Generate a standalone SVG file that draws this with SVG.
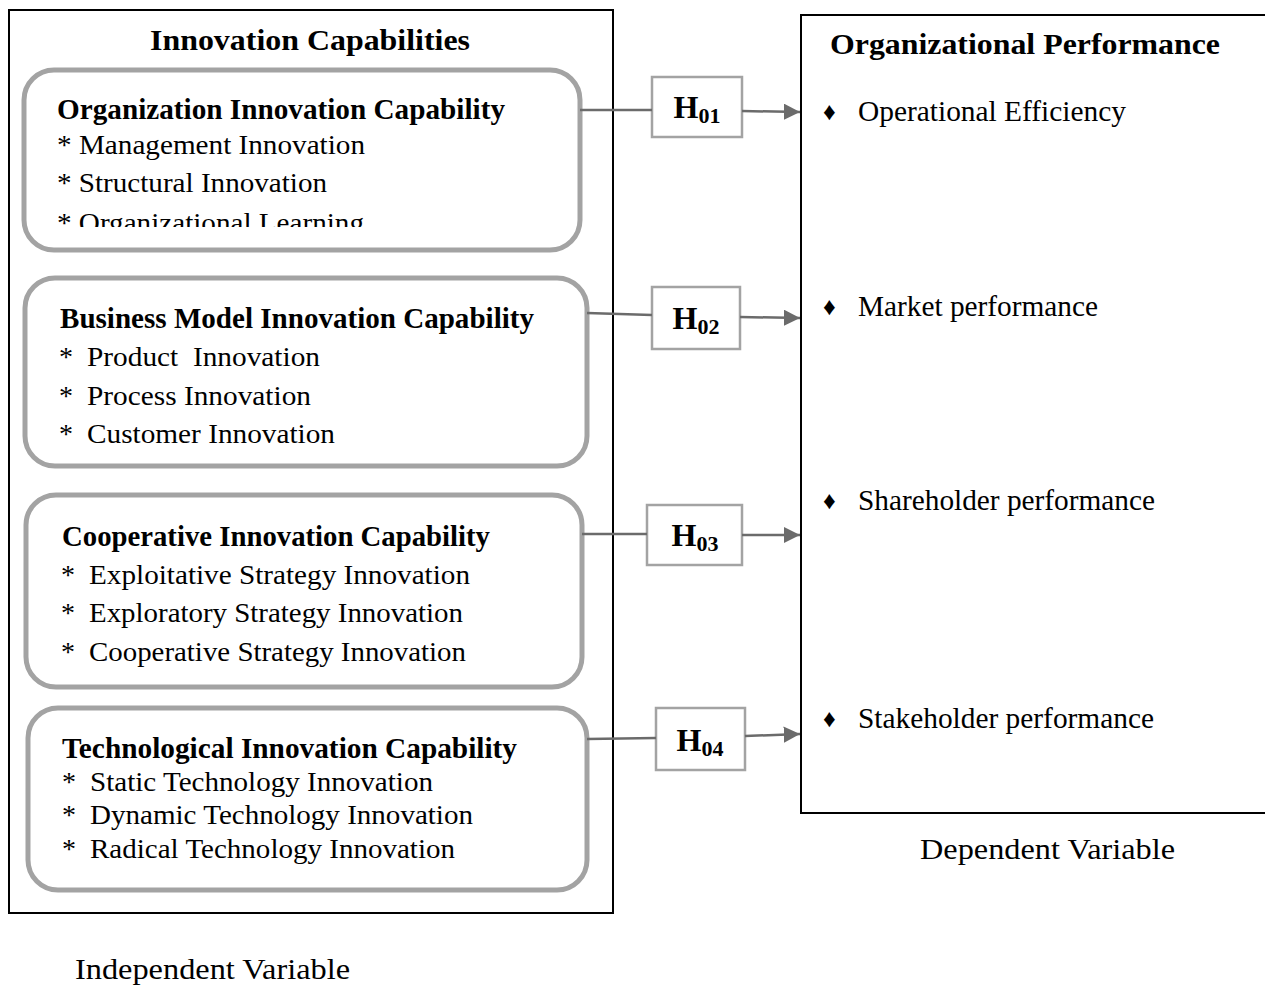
<svg xmlns="http://www.w3.org/2000/svg" width="1265" height="990" viewBox="0 0 1265 990">
  <style>
    .frame { fill: #ffffff; stroke: #000000; stroke-width: 2; }
    .cap { fill: #ffffff; stroke: #a3a3a3; stroke-width: 5; }
    .hbox { fill: #ffffff; stroke: #a3a3a3; stroke-width: 2.5; }
    .link { fill: none; stroke: #6b6b6b; stroke-width: 2.5; }
    text { font-family: "Liberation Serif", "Times New Roman", Times, serif; fill: #000000; }
    .head { font-size: 30px; font-weight: bold; }
    .sub { font-size: 29px; font-weight: bold; }
    .item { font-size: 28px; }
    .ritem { font-size: 29px; }
    .bullet { font-size: 25px; }
    .hyp { font-size: 32px; font-weight: bold; }
    .hyps { font-size: 22px; font-weight: bold; }
  </style>
  <defs>
    <marker id="arrow" viewBox="0 0 10 10" refX="10" refY="5" markerWidth="6.5" markerHeight="6.5" markerUnits="strokeWidth" orient="auto">
      <path d="M0,0 L10,5 L0,10 z" fill="#6b6b6b"/>
    </marker>
    <clipPath id="clip-box1">
      <rect x="30" y="76" width="544" height="151"/>
    </clipPath>
  </defs>

  <rect width="1265" height="990" fill="#ffffff"/>

  <!-- Independent variables frame -->
  <g id="innovation-capabilities">
    <rect class="frame" x="9" y="10" width="604" height="903"/>
    <text class="head" x="150" y="50" textLength="320" lengthAdjust="spacingAndGlyphs">Innovation Capabilities</text>
  </g>

  <g id="organization-innovation">
    <rect class="cap" x="24" y="70" width="556" height="180" rx="30" ry="30"/>
    <text class="sub" x="57" y="119" textLength="448" lengthAdjust="spacingAndGlyphs">Organization Innovation Capability</text>
    <text class="item" x="57" y="154" textLength="308" lengthAdjust="spacingAndGlyphs">* Management Innovation</text>
    <text class="item" x="57" y="192" textLength="270" lengthAdjust="spacingAndGlyphs">* Structural Innovation</text>
    <text class="item" x="57" y="232" textLength="307" lengthAdjust="spacingAndGlyphs" clip-path="url(#clip-box1)">* Organizational Learning</text>
  </g>

  <g id="business-model-innovation">
    <rect class="cap" x="25" y="278" width="562" height="188" rx="30" ry="30"/>
    <text class="sub" x="60" y="328" textLength="474" lengthAdjust="spacingAndGlyphs">Business Model Innovation Capability</text>
    <text class="item" x="59" y="366">*</text>
    <text class="item" x="87" y="366" textLength="233" lengthAdjust="spacingAndGlyphs" xml:space="preserve">Product  Innovation</text>
    <text class="item" x="59" y="405">*</text>
    <text class="item" x="87" y="405" textLength="224" lengthAdjust="spacingAndGlyphs">Process Innovation</text>
    <text class="item" x="59" y="443">*</text>
    <text class="item" x="87" y="443" textLength="248" lengthAdjust="spacingAndGlyphs">Customer Innovation</text>
  </g>

  <g id="cooperative-innovation">
    <rect class="cap" x="26" y="495" width="556" height="192" rx="30" ry="30"/>
    <text class="sub" x="62" y="546" textLength="428" lengthAdjust="spacingAndGlyphs">Cooperative Innovation Capability</text>
    <text class="item" x="61" y="584">*</text>
    <text class="item" x="89" y="584" textLength="381" lengthAdjust="spacingAndGlyphs">Exploitative Strategy Innovation</text>
    <text class="item" x="61" y="622">*</text>
    <text class="item" x="89" y="622" textLength="374" lengthAdjust="spacingAndGlyphs">Exploratory Strategy Innovation</text>
    <text class="item" x="61" y="661">*</text>
    <text class="item" x="89" y="661" textLength="377" lengthAdjust="spacingAndGlyphs">Cooperative Strategy Innovation</text>
  </g>

  <g id="technological-innovation">
    <rect class="cap" x="28" y="708" width="559" height="182" rx="30" ry="30"/>
    <text class="sub" x="62" y="758" textLength="455" lengthAdjust="spacingAndGlyphs">Technological Innovation Capability</text>
    <text class="item" x="62" y="791">*</text>
    <text class="item" x="90" y="791" textLength="343" lengthAdjust="spacingAndGlyphs">Static Technology Innovation</text>
    <text class="item" x="62" y="824">*</text>
    <text class="item" x="90" y="824" textLength="383" lengthAdjust="spacingAndGlyphs">Dynamic Technology Innovation</text>
    <text class="item" x="62" y="858">*</text>
    <text class="item" x="90" y="858" textLength="365" lengthAdjust="spacingAndGlyphs">Radical Technology Innovation</text>
  </g>

  <g id="independent-label">
    <text class="ritem" x="75" y="979" textLength="275" lengthAdjust="spacingAndGlyphs">Independent Variable</text>
  </g>

  <!-- Dependent variable frame -->
  <g id="organizational-performance">
    <rect class="frame" x="801" y="15" width="500" height="798"/>
    <text class="head" x="830" y="54" textLength="390" lengthAdjust="spacingAndGlyphs">Organizational Performance</text>
    <text class="bullet" x="823" y="120">♦</text>
    <text class="ritem" x="858" y="121" textLength="268" lengthAdjust="spacingAndGlyphs">Operational Efficiency</text>
    <text class="bullet" x="823" y="315">♦</text>
    <text class="ritem" x="858" y="316" textLength="240" lengthAdjust="spacingAndGlyphs">Market performance</text>
    <text class="bullet" x="823" y="509">♦</text>
    <text class="ritem" x="858" y="510" textLength="297" lengthAdjust="spacingAndGlyphs">Shareholder performance</text>
    <text class="bullet" x="823" y="727">♦</text>
    <text class="ritem" x="858" y="728" textLength="296" lengthAdjust="spacingAndGlyphs">Stakeholder performance</text>
  </g>

  <g id="dependent-label">
    <text class="ritem" x="920" y="859" textLength="255" lengthAdjust="spacingAndGlyphs">Dependent Variable</text>
  </g>

  <!-- Hypothesis boxes -->
  <g id="h01">
    <rect class="hbox" x="652" y="77" width="90" height="60"/>
    <text x="697" y="118" text-anchor="middle"><tspan class="hyp">H</tspan><tspan class="hyps" dy="5">01</tspan></text>
  </g>
  <g id="h02">
    <rect class="hbox" x="652" y="287" width="88" height="62"/>
    <text x="696" y="329" text-anchor="middle"><tspan class="hyp">H</tspan><tspan class="hyps" dy="5">02</tspan></text>
  </g>
  <g id="h03">
    <rect class="hbox" x="647" y="505" width="95" height="60"/>
    <text x="695" y="546" text-anchor="middle"><tspan class="hyp">H</tspan><tspan class="hyps" dy="5">03</tspan></text>
  </g>
  <g id="h04">
    <rect class="hbox" x="656" y="708" width="89" height="62"/>
    <text x="700" y="751" text-anchor="middle"><tspan class="hyp">H</tspan><tspan class="hyps" dy="5">04</tspan></text>
  </g>

  <!-- Connectors -->
  <g id="connectors">
    <line class="link" x1="580" y1="110" x2="652" y2="110"/>
    <line class="link" x1="742" y1="111" x2="800" y2="112" marker-end="url(#arrow)"/>
    <line class="link" x1="587" y1="313" x2="652" y2="315"/>
    <line class="link" x1="740" y1="317" x2="800" y2="318" marker-end="url(#arrow)"/>
    <line class="link" x1="582" y1="534" x2="647" y2="534"/>
    <line class="link" x1="742" y1="535" x2="800" y2="535" marker-end="url(#arrow)"/>
    <line class="link" x1="587" y1="739" x2="656" y2="738"/>
    <line class="link" x1="745" y1="736" x2="800" y2="734" marker-end="url(#arrow)"/>
  </g>
</svg>
